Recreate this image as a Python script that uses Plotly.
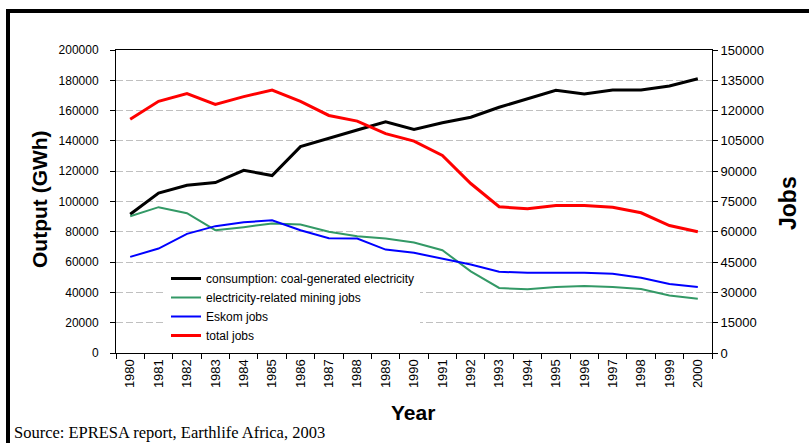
import plotly.graph_objects as go

# Years on the category axis
years = [str(y) for y in range(1980, 2001)]

# Coal-generated electricity consumption (GWh, left axis)
consumption_gwh = [91600, 105600, 110700, 112500, 120600, 117100, 136200, 141900,
                   147200, 152600, 147600, 152000, 155600, 162200, 167700, 173400,
                   171000, 173600, 173600, 176300, 181000]

# Employment series (jobs, right axis)
mining_jobs = [67700, 72200, 69200, 60800, 62300, 64100, 63600, 60000, 57800,
               56700, 54700, 50900, 40400, 32200, 31500, 32700, 33200, 32700,
               31700, 28500, 26900]
eskom_jobs = [47600, 51700, 59000, 62800, 64700, 65700, 60800, 56800, 56700,
              51200, 49600, 46700, 43800, 40200, 39700, 39700, 39700, 39200,
              37200, 34200, 32700]
total_jobs = [115700, 124600, 128400, 123100, 126900, 130200, 124600, 117600,
              114800, 108600, 104900, 97800, 83900, 72400, 71400, 73000, 73000,
              72200, 69400, 63100, 60000]

left_ticks = list(range(0, 200001, 20000))
right_ticks = list(range(0, 150001, 15000))

W, H = 809, 443
ML, MR, MT, MB = 116, 97, 50, 90
PW, PH = W - ML - MR, H - MT - MB


def px(x):
    return (x - ML) / PW


def py(y):
    return (H - MB - y) / PH


SANS = "Liberation Sans, Arial, sans-serif"
SERIF = "Liberation Serif, Times New Roman, serif"

fig = go.Figure()
fig.add_trace(go.Scatter(x=years, y=consumption_gwh, mode="lines",
                         name="consumption: coal-generated electricity",
                         line=dict(color="#000000", width=3), yaxis="y"))
fig.add_trace(go.Scatter(x=years, y=mining_jobs, mode="lines",
                         name="electricity-related mining jobs",
                         line=dict(color="#339966", width=2), yaxis="y2"))
fig.add_trace(go.Scatter(x=years, y=eskom_jobs, mode="lines",
                         name="Eskom jobs",
                         line=dict(color="#0000FF", width=2), yaxis="y2"))
fig.add_trace(go.Scatter(x=years, y=total_jobs, mode="lines",
                         name="total jobs",
                         line=dict(color="#FF0000", width=3), yaxis="y2"))

fig.update_layout(
    width=W, height=H,
    margin=dict(l=ML, r=MR, t=MT, b=MB, pad=0),
    paper_bgcolor="white", plot_bgcolor="white",
    font=dict(family=SANS, color="#000000", size=12),
    showlegend=True,
    legend=dict(x=px(166), y=py(264), xanchor="left", yanchor="top",
                bgcolor="white", borderwidth=0, font=dict(size=12),
                tracegroupgap=0),
    xaxis=dict(type="category", categoryorder="array", categoryarray=years,
               tickangle=-90, tickson="boundaries", ticks="outside", ticklen=5,
               tickcolor="#000000", showline=True, linecolor="#000000",
               linewidth=1, mirror=True, showgrid=False,
               tickfont=dict(size=13), range=[-0.5, len(years) - 0.5]),
    yaxis=dict(range=[0, 200000], tickvals=left_ticks,
               ticktext=[str(v) for v in left_ticks],
               ticks="outside", ticklen=5, tickcolor="#000000",
               showline=True, linecolor="#000000", linewidth=1,
               showgrid=True, gridcolor="#c0c0c0", gridwidth=1,
               griddash="7px,3px", zeroline=False,
               tickfont=dict(size=12), ticklabelstandoff=9),
    yaxis2=dict(range=[0, 150000], tickvals=right_ticks,
                ticktext=[str(v) for v in right_ticks],
                overlaying="y", side="right",
                ticks="outside", ticklen=5, tickcolor="#000000",
                showline=True, linecolor="#000000", linewidth=1,
                showgrid=False, zeroline=False, tickfont=dict(size=13)),
    # inner half of the crossing tick marks on the right axis
    yaxis3=dict(range=[0, 150000], tickvals=right_ticks,
                overlaying="y", side="right", anchor="x",
                ticks="inside", ticklen=5, tickcolor="#000000",
                showticklabels=False, showline=False,
                showgrid=False, zeroline=False),
)

# Axis titles
fig.add_annotation(text="<b>Output (GWh)</b>", textangle=-90,
                   xref="paper", yref="paper", x=px(39), y=py(199),
                   xanchor="center", yanchor="middle", showarrow=False,
                   font=dict(family=SANS, size=21))
fig.add_annotation(text="<b>Jobs</b>", textangle=-90,
                   xref="paper", yref="paper", x=px(788), y=py(203),
                   xanchor="center", yanchor="middle", showarrow=False,
                   font=dict(family=SANS, size=23))
fig.add_annotation(text="<b>Year</b>",
                   xref="paper", yref="paper", x=px(413), y=py(412),
                   xanchor="center", yanchor="middle", showarrow=False,
                   font=dict(family=SANS, size=21))

# Source line
fig.add_annotation(text="Source: EPRESA report, Earthlife Africa, 2003",
                   xref="paper", yref="paper", x=px(12), y=py(432),
                   xanchor="left", yanchor="middle", showarrow=False,
                   font=dict(family=SERIF, size=16.5))

# Frame around the figure (left and top edges)
fig.add_shape(type="line", xref="paper", yref="paper",
              x0=px(8), x1=px(8), y0=py(9), y1=py(450),
              line=dict(color="#000000", width=4))
fig.add_shape(type="line", xref="paper", yref="paper",
              x0=px(6), x1=px(815), y0=py(11), y1=py(11),
              line=dict(color="#000000", width=4))

fig.write_html("out.html")
